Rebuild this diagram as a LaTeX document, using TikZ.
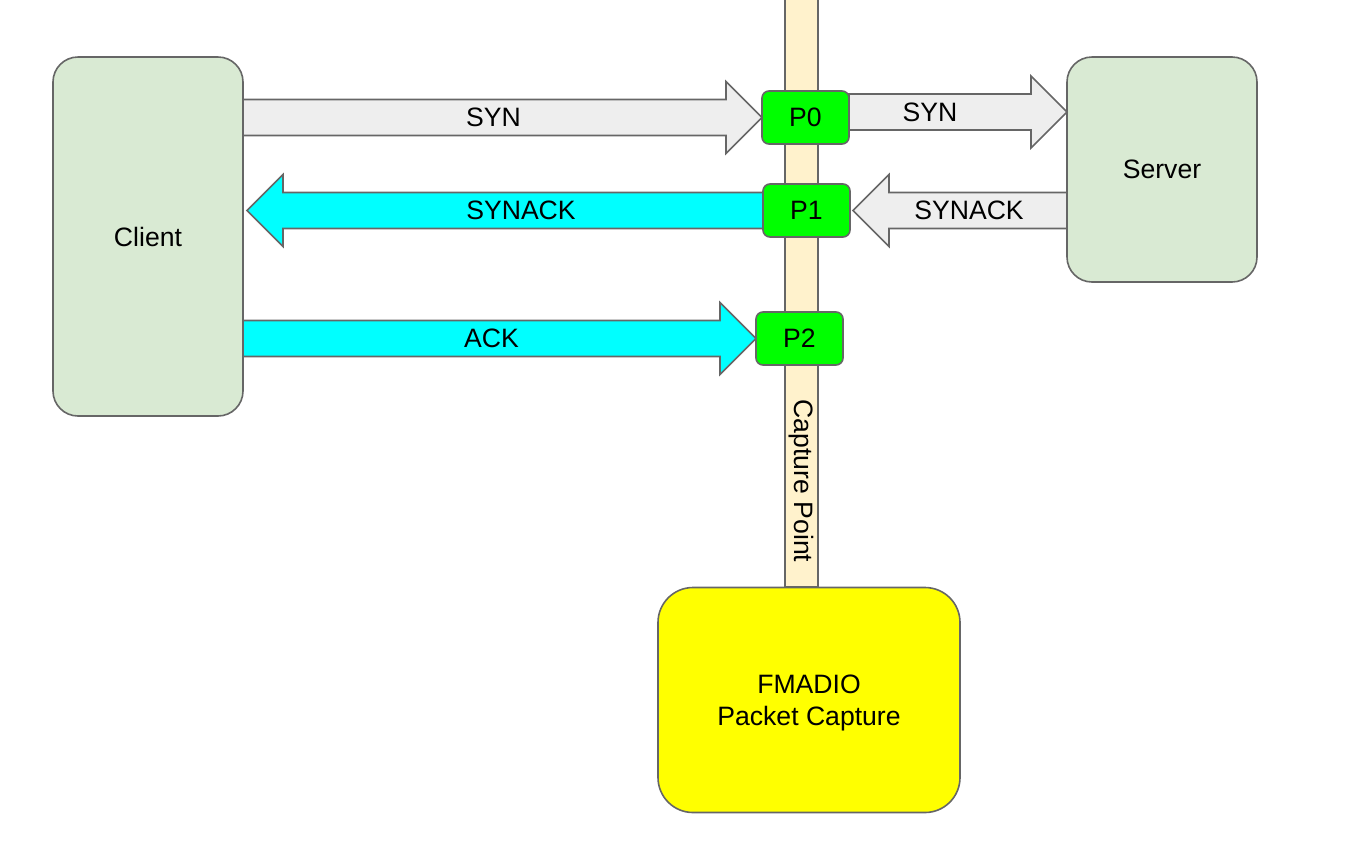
\documentclass[tikz,border=0pt]{standalone}
\usepackage{fontspec}
\setmainfont{Liberation Sans}
\usetikzlibrary{calc,positioning}

\definecolor{hostgreen}{HTML}{D9EAD3}
\definecolor{edgegray}{HTML}{666666}
\definecolor{pktgray}{HTML}{EEEEEE}
\definecolor{pktcyan}{HTML}{00FFFF}
\definecolor{portgreen}{HTML}{00FF00}
\definecolor{tapcream}{HTML}{FFF2CC}
\definecolor{capyellow}{HTML}{FFFF00}

\tikzset{
  box/.style={draw=edgegray, line width=0.8pt, inner sep=0pt, outer sep=0pt, align=center},
  host/.style={box, fill=hostgreen, rounded corners=12.5pt, minimum width=95pt},
  port/.style={box, fill=portgreen, rounded corners=3.5pt, minimum width=43.5pt, minimum height=26.5pt},
  fatarrow/.style={draw=edgegray, line width=0.8pt, line join=miter},
}

% block arrow: [label shift], fill, from, tip, label
\newcommand{\fatarrow}[5][0pt]{%
  \coordinate (hb) at ($(#4)!18pt!(#3)$);
  \draw[fatarrow, fill=#2] ($(#3)+(0,9pt)$) -- ($(hb)+(0,9pt)$) -- ($(hb)+(0,18pt)$) -- (#4)
    -- ($(hb)+(0,-18pt)$) -- ($(hb)+(0,-9pt)$) -- ($(#3)+(0,-9pt)$) -- cycle;
  \node[xshift=#1] at ($(#3)!0.5!(hb)$) {#5};
}

\begin{document}
\begin{tikzpicture}[x=0.5pt, y=-0.5pt, font=\fontsize{13.3}{16}\selectfont]
\useasboundingbox (0,0) rectangle (1354,863);

% capture tap
\node[box, fill=tapcream, minimum width=16.5pt, minimum height=298.5pt] (bar) at (801.5,288.5) {};
\node[rotate=-90] (tapname) at (801,481) {Capture Point};

% hosts
\node[host, minimum height=179.5pt] (client) at (148,236.5) {Client};
\node[host, minimum height=112.5pt] (server) at (1162,169.5) {Server};
\node[box, fill=capyellow, rounded corners=17.5pt, minimum width=151pt, minimum height=112.5pt] (fmadio) at (809,700) {};
\node[align=center, yshift=-1.5pt] (fmadioname) at (fmadio.center) {FMADIO\\Packet Capture};

% capture points
\node[port] (p0) at (805.5,117.5) {P0};
\node[port] (p1) at (806.5,210.5) {P1};
\node[port] (p2) at (799.5,338.5) {P2};

% handshake
\coordinate (c0) at (client.east |- p0.west);
\coordinate (s0) at ($(p0.east)+(0,2.75pt)$);
\coordinate (s1) at (server.west |- s0);
\coordinate (s2) at (server.west |- p1.east);
\coordinate (p1r) at ($(p1.east)+(1.5pt,0)$);
\coordinate (c1) at ($(client.east |- p1.west)+(2pt,0)$);
\coordinate (c2) at (client.east |- p2.west);

\fatarrow[4.5pt]{pktgray}{c0}{p0.west}{SYN}
\fatarrow[-5pt]{pktgray}{s0}{s1}{SYN}
\fatarrow[-4.5pt]{pktgray}{s2}{p1r}{SYNACK}
\fatarrow[-1pt]{pktcyan}{p1.west}{c1}{SYNACK}
\fatarrow[5pt]{pktcyan}{c2}{p2.west}{ACK}
\end{tikzpicture}
\end{document}
